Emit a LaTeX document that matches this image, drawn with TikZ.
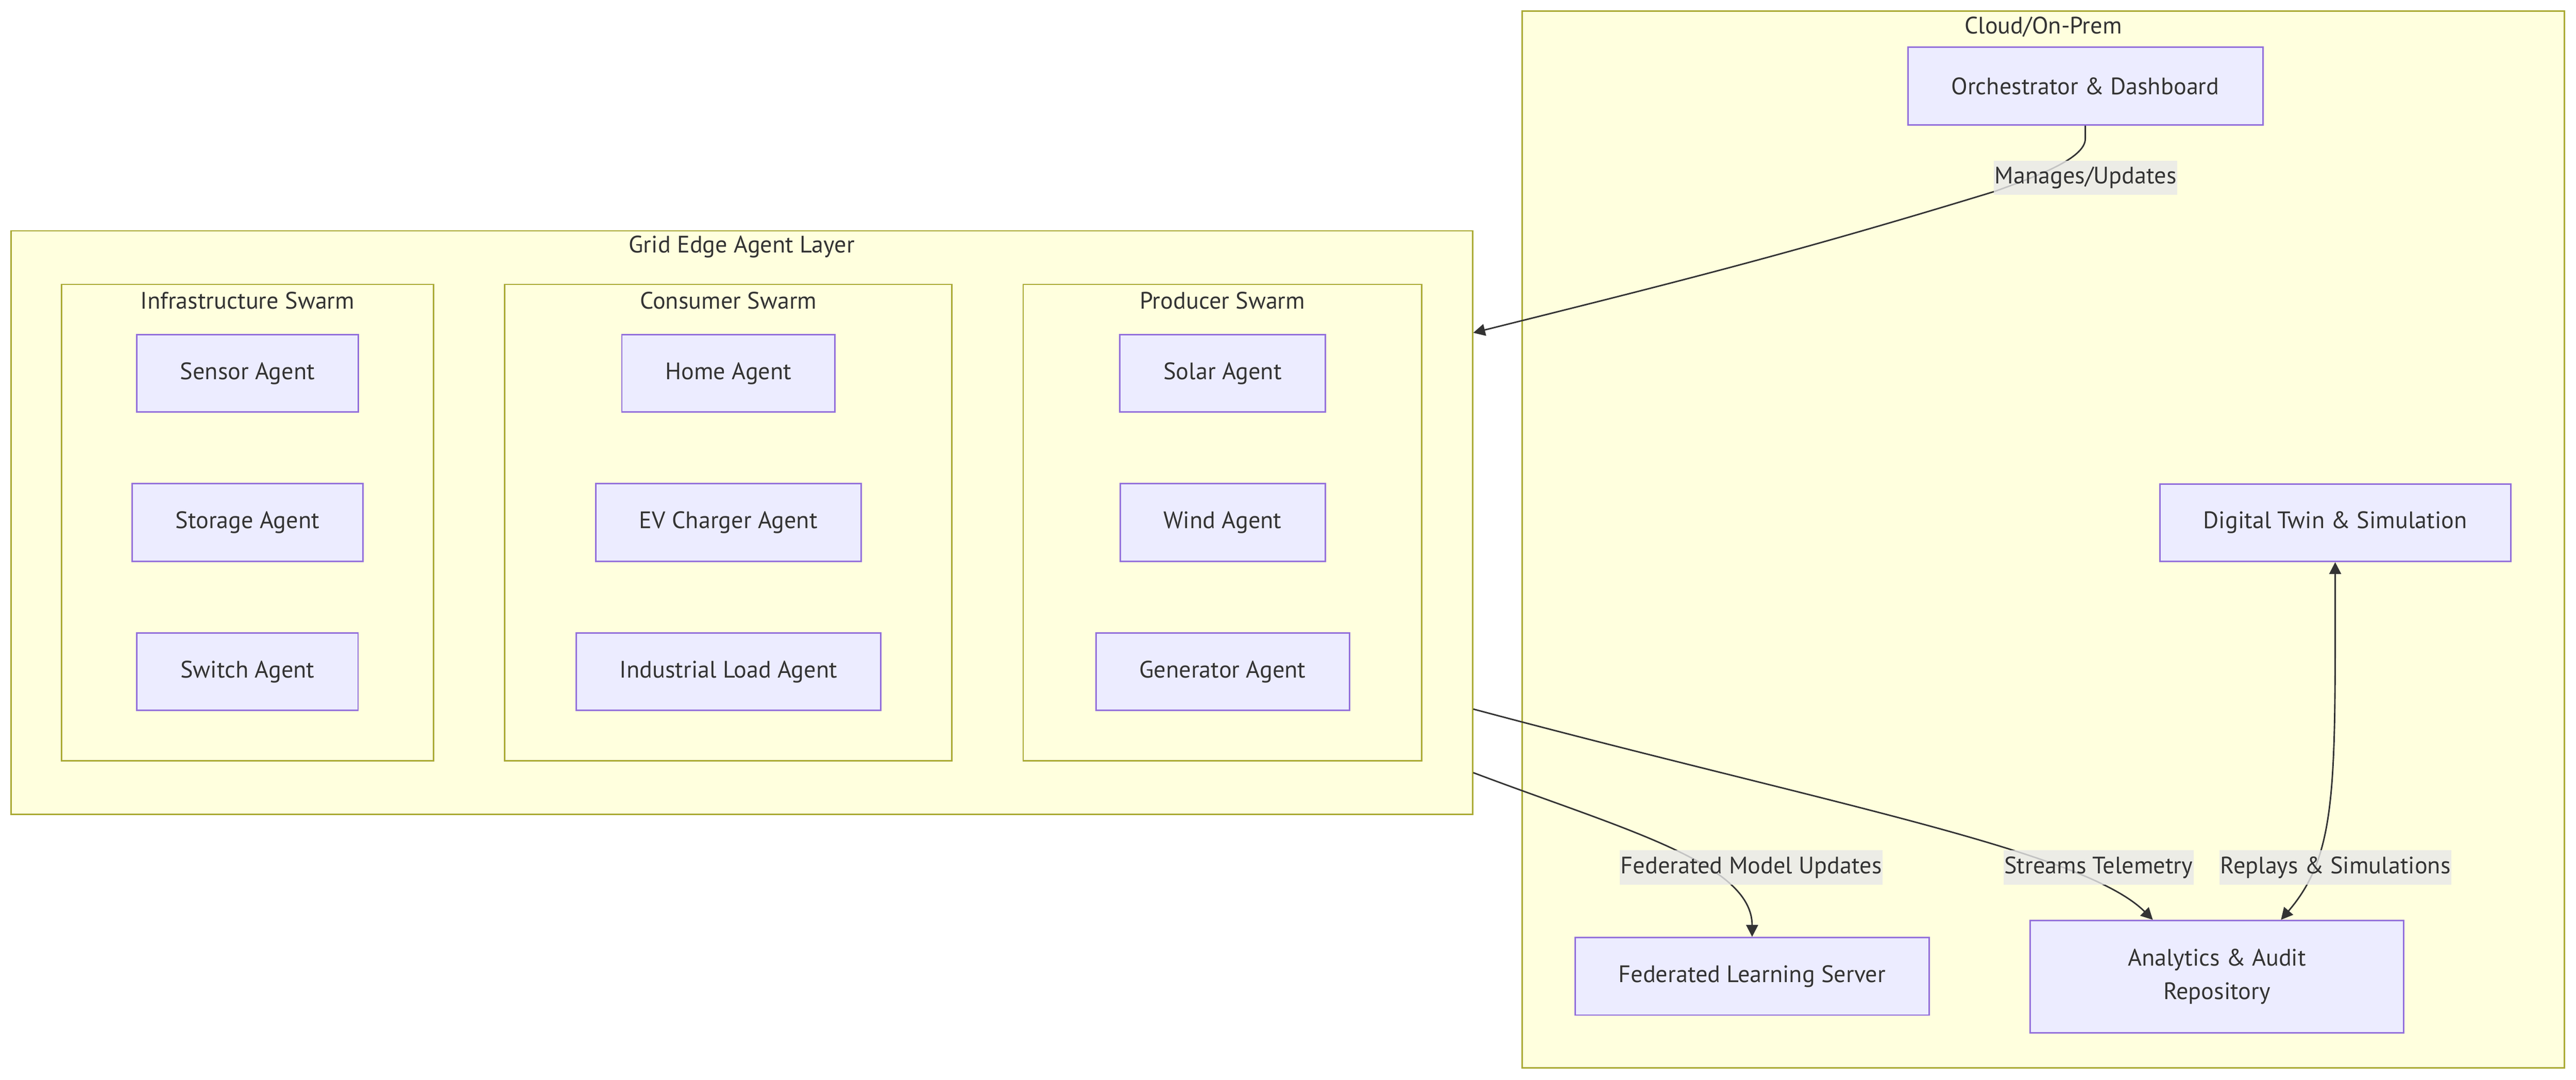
\documentclass[tikz,border=0pt]{standalone}
\usepackage{fontspec}
\setmainfont{PT Sans}
\usepackage{xcolor}
\usetikzlibrary{positioning, arrows.meta}

\definecolor{agentfill}{HTML}{ECECFF}
\definecolor{agentline}{HTML}{9370DB}
\definecolor{swarmfill}{HTML}{FFFFDE}
\definecolor{swarmline}{HTML}{AAAA33}
\definecolor{inkcol}{HTML}{333333}
\definecolor{lblfill}{HTML}{E8E8E8}

\tikzset{
	agent/.style={draw=agentline, fill=agentfill, line width=0.9pt, minimum height=47.2pt, inner xsep=26.5pt, text=inkcol},
	swarm/.style={draw=swarmline, fill=swarmfill, line width=0.9pt, inner sep=0pt},
	swarmtitle/.style={text=inkcol, inner sep=0pt},
	lbl/.style={fill=lblfill, fill opacity=0.8, text opacity=1, text=inkcol, inner xsep=0.5pt, inner ysep=0pt, minimum height=20.9pt},
}

\begin{document}
\begin{tikzpicture}[x=1pt, y=-1pt, ->, >={Triangle[length=7.2pt,width=7.2pt]}, color=inkcol, line width=0.9pt, font=\fontsize{14.5pt}{20.3pt}\selectfont, node distance=42.7pt]
		\useasboundingbox (0,0) rectangle (1568,657.2);
		
		% clusters
		\node[swarm, minimum width=634.6pt, minimum height=643.3pt] (cloud) at (1243.7,328.35) {};
		\node[swarmtitle] (cloudtitle) at ([yshift=-10.3pt]cloud.north) {Cloud/On-Prem};
		\node[swarm, minimum width=889.6pt, minimum height=355.2pt] (grid) at (451.5,318.1) {};
		\node[swarmtitle] (gridtitle) at ([yshift=-10.3pt]grid.north) {Grid Edge Agent Layer};
		\node[swarm, minimum width=226.3pt, minimum height=290pt] (infra) at (150.65,318.1) {};
		\node[swarmtitle] (infratitle) at ([yshift=-10.4pt]infra.north) {Infrastructure Swarm};
		\node[swarm, minimum width=272.3pt, minimum height=290pt] (consumer) at (443.35,318.1) {};
		\node[swarmtitle] (consumertitle) at ([yshift=-10.4pt]consumer.north) {Consumer Swarm};
		\node[swarm, minimum width=242.7pt, minimum height=290pt] (producer) at (744.15,318.1) {};
		\node[swarmtitle] (producertitle) at ([yshift=-10.4pt]producer.north) {Producer Swarm};
		
		% agents
		\node[agent] (sensor) at (150.65,227.2) {Sensor Agent};
		\node[agent, below=of sensor] (storage) {Storage Agent};
		\node[agent, below=of storage] (switch) {Switch Agent};
		\node[agent] (home) at (443.4,227.2) {Home Agent};
		\node[agent, below=of home] (evcharger) {EV Charger Agent};
		\node[agent, below=of evcharger] (industrial) {Industrial Load Agent};
		\node[agent] (solar) at (744.2,227.2) {Solar Agent};
		\node[agent, below=of solar] (wind) {Wind Agent};
		\node[agent, below=of wind] (generator) {Generator Agent};
		
		% cloud side
		\node[agent] (orch) at (1269.3,52.4) {Orchestrator \& Dashboard};
		\node[agent] (twin) at (1421.4,318.1) {Digital Twin \& Simulation};
		\node[agent] (fls) at (1066.5,594.2) {Federated Learning Server};
		\node[agent, minimum width=227.2pt, minimum height=68.3pt, align=center] (analytics) at (1349.4,594.4) {Analytics \& Audit\\Repository};
		
		\draw (orch.south) -- ++(0,8) to[out=-90, in=20, out looseness=0.5] ++(-55,32) to[out=197, in=14] ([yshift=-62.5pt]grid.north east);
		\draw ([yshift=64.6pt]grid.south east) .. controls +(213,57) and +(-42,-42) .. ([xshift=-39pt]analytics.north);
		\draw ([yshift=25.9pt]grid.south east) .. controls +(90,34) and +(0,-45) .. (fls.north);
		\draw[<->] (twin.south) .. controls +(0,136) and +(34.5,-40.2) .. ([xshift=39pt]analytics.north);
		
		\node[lbl] (lblmanage) at (1269.5,108.2) {Manages/Updates};
		\node[lbl] (lblfed) at (1066,528) {Federated Model Updates};
		\node[lbl] (lblstream) at (1277.3,528) {Streams Telemetry};
		\node[lbl] (lblreplay) at (1421.6,528) {Replays \& Simulations};
	\end{tikzpicture}
\end{document}
